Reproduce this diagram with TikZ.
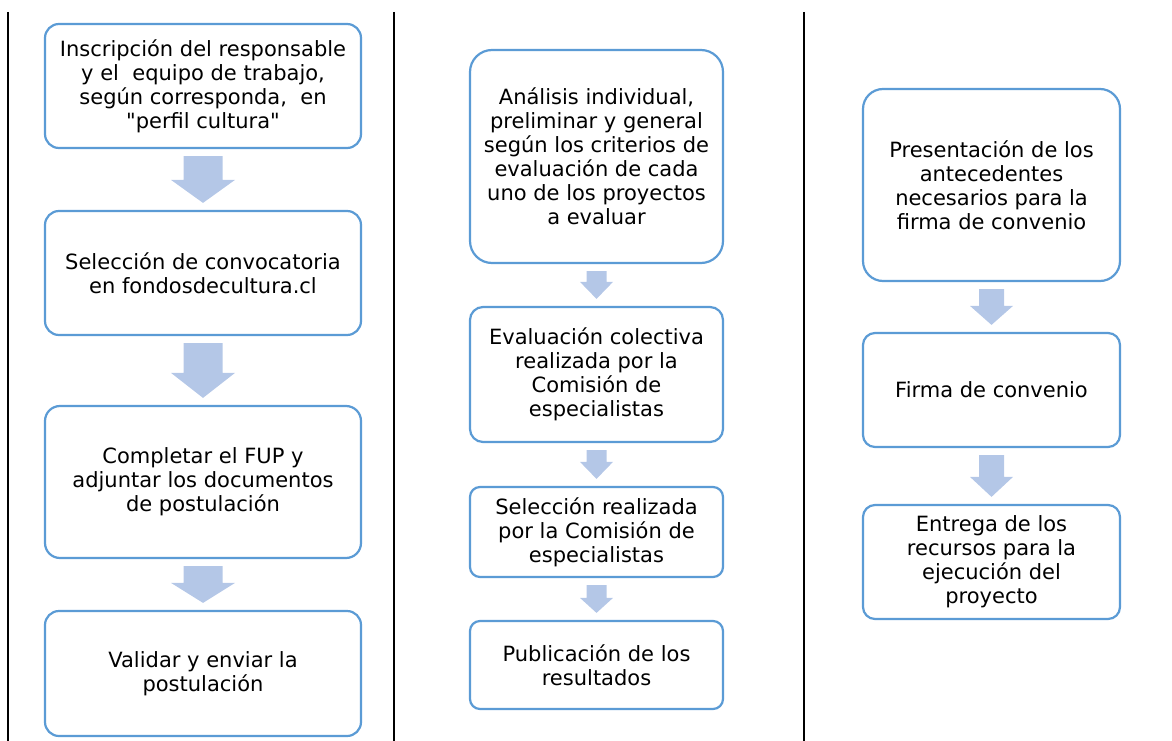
\documentclass[tikz,border=0pt]{standalone}
\usepackage{fontspec}
\setmainfont{DejaVu Sans}
\usetikzlibrary{calc}
\definecolor{boxc}{RGB}{91,155,213}
\definecolor{arrowc}{RGB}{180,199,231}
\newcommand\sqt{\XeTeXglyph\XeTeXcharglyph"22\relax}
\tikzset{
  stepbox/.style={draw=boxc, line width=2.2pt, fill=white, align=center,
    inner sep=0pt, font=\fontsize{21}{24}\selectfont, text=black},
  colline/.style={draw=black, line width=2pt},
}
% block arrow from node #1 to node #2: #3 shaft half width, #4 head half width, #5 head length
\newcommand\barrow[5]{%
  \path let \p1=(#1.south), \p2=(#2.north) in
    [fill=arrowc] (\x1-#3pt,\y1-7pt) -- (\x1+#3pt,\y1-7pt) -- (\x1+#3pt,\y2+7pt+#5pt)
    -- (\x1+#4pt,\y2+7pt+#5pt) -- (\x1,\y2+7pt) -- (\x1-#4pt,\y2+7pt+#5pt)
    -- (\x1-#3pt,\y2+7pt+#5pt) -- cycle;}
\begin{document}
\begin{tikzpicture}[x=1pt,y=-1pt]
\useasboundingbox (0,0) rectangle (1172,741);
% column separators
\coordinate (s1t) at (8,12);   \coordinate (s1b) at (8,741);
\coordinate (s2t) at (394,12); \coordinate (s2b) at (394,741);
\coordinate (s3t) at (804,12); \coordinate (s3b) at (804,741);
\draw[colline] (s1t) -- (s1b);
\draw[colline] (s2t) -- (s2b);
\draw[colline] (s3t) -- (s3b);
% left column
\node[stepbox, minimum width=316pt, minimum height=124pt, rounded corners=14pt] (L1) at (203,86)
  {Inscripción del responsable\\y el\ \ equipo de trabajo,\\según corresponda,\ \ en\\\sqt perfil cultura\sqt};
\node[stepbox, minimum width=316pt, minimum height=124pt, rounded corners=14pt] (L2) at (203,273)
  {Selección de convocatoria\\en fondosdecultura.cl};
\node[stepbox, minimum width=316pt, minimum height=152pt, rounded corners=15pt] (L3) at (203,482)
  {Completar el FUP y\\adjuntar los documentos\\de postulación};
\node[stepbox, minimum width=316pt, minimum height=125pt, rounded corners=14pt] (L4) at (203,673.5)
  {Validar y enviar la\\postulación};
\barrow{L1}{L2}{19.5}{32}{23}
\barrow{L2}{L3}{19.5}{32}{25}
\barrow{L3}{L4}{19.5}{32}{20}
% middle column
\node[stepbox, minimum width=253pt, minimum height=213pt, rounded corners=22pt] (M1) at (596.5,156.5)
  {Análisis individual,\\preliminar y general\\según los criterios de\\evaluación de cada\\uno de los proyectos\\a evaluar};
\node[stepbox, minimum width=253pt, minimum height=135pt, rounded corners=13pt] (M2) at (596.5,374.5)
  {Evaluación colectiva\\realizada por la\\Comisión de\\especialistas};
\node[stepbox, minimum width=253pt, minimum height=90pt, rounded corners=10pt] (M3) at (596.5,532)
  {Selección realizada\\por la Comisión de\\especialistas};
\node[stepbox, minimum width=253pt, minimum height=88pt, rounded corners=10pt] (M4) at (596.5,665)
  {Publicación de los\\resultados};
\barrow{M1}{M2}{10}{16.5}{17}
\barrow{M2}{M3}{10}{16.5}{17}
\barrow{M3}{M4}{10}{16.5}{15}
% right column
\node[stepbox, minimum width=257pt, minimum height=192pt, rounded corners=20pt] (R1) at (991.5,185)
  {Presentación de los\\antecedentes\\necesarios para la\\firma de convenio};
\node[stepbox, minimum width=257pt, minimum height=114pt, rounded corners=12pt] (R2) at (991.5,390)
  {Firma de convenio};
\node[stepbox, minimum width=257pt, minimum height=114pt, rounded corners=12pt] (R3) at (991.5,562)
  {Entrega de los\\recursos para la\\ejecución del\\proyecto};
\barrow{R1}{R2}{12.5}{21.5}{19}
\barrow{R2}{R3}{12.5}{21.5}{20}
\end{tikzpicture}
\end{document}
